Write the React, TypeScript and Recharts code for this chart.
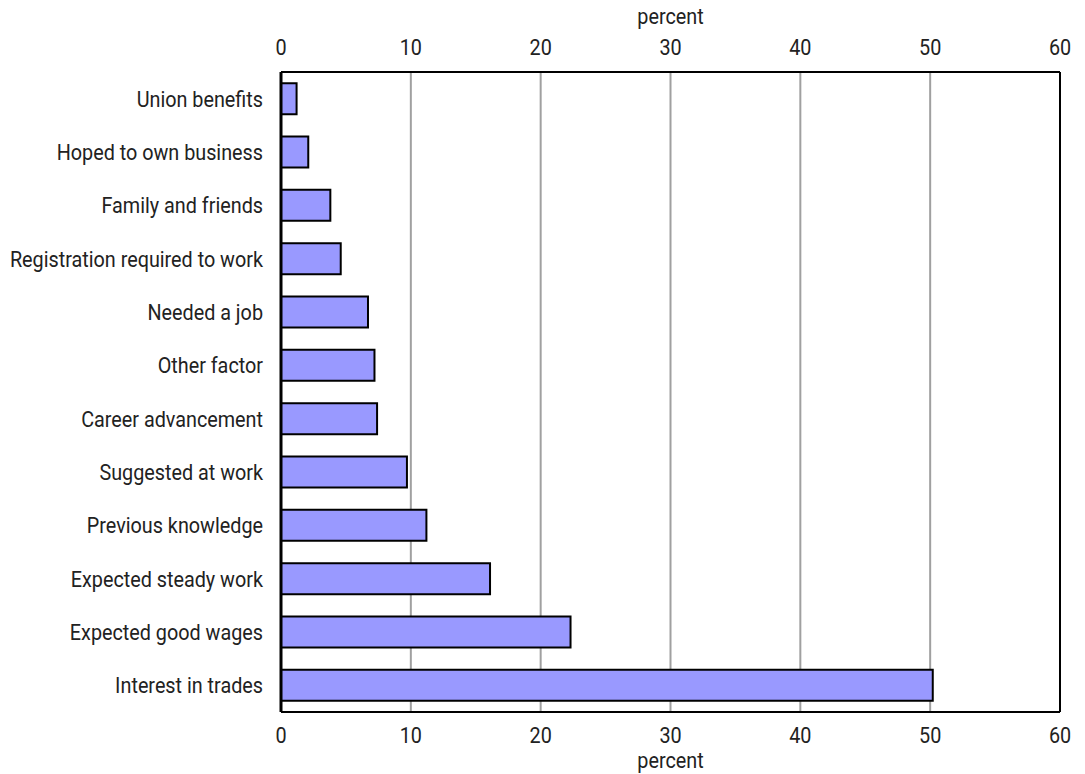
import { BarChart, Bar, XAxis, YAxis, CartesianGrid } from 'recharts'

const REASONS = [
  'Union benefits',
  'Hoped to own business',
  'Family and friends',
  'Registration required to work',
  'Needed a job',
  'Other factor',
  'Career advancement',
  'Suggested at work',
  'Previous knowledge',
  'Expected steady work',
  'Expected good wages',
  'Interest in trades',
]
const PERCENTS = [1.2, 2.1, 3.8, 4.6, 6.7, 7.2, 7.4, 9.7, 11.2, 16.1, 22.3, 50.2]
const X_TICKS = [0, 10, 20, 30, 40, 50, 60]
const AXIS_TITLE = 'percent'

const data = REASONS.map((name, i) => ({ name, value: PERCENTS[i] }))

const FONT = 'Roboto, "Liberation Sans", sans-serif'
const FONT_SIZE = 22
const SQUEEZE = 0.9 // narrow the glyphs a bit, the original uses a condensed face

// text drawn at (x, y) and squeezed horizontally around that point
function NarrowText({ x, y, anchor, children }: { x: number; y: number; anchor: string; children: any }) {
  return (
    <text
      transform={`translate(${x},${y}) scale(${SQUEEZE},1)`}
      textAnchor={anchor}
      fill="#222"
      fontSize={FONT_SIZE}
      fontFamily={FONT}
    >
      {children}
    </text>
  )
}

const TopTick = (props: any) => (
  <NarrowText x={props.x} y={props.y - 17} anchor="middle">
    {props.payload.value}
  </NarrowText>
)

const BottomTick = (props: any) => (
  <NarrowText x={props.x} y={props.y + 31} anchor="middle">
    {props.payload.value}
  </NarrowText>
)

const CategoryTick = (props: any) => (
  <NarrowText x={props.x} y={props.y + 8} anchor="end">
    {props.payload.value}
  </NarrowText>
)

const topTitle = (props: any) => {
  const vb = props.viewBox
  return (
    <NarrowText x={vb.x + vb.width / 2} y={vb.y + 24} anchor="middle">
      {AXIS_TITLE}
    </NarrowText>
  )
}

const bottomTitle = (props: any) => {
  const vb = props.viewBox
  return (
    <NarrowText x={vb.x + vb.width / 2} y={vb.y + 56} anchor="middle">
      {AXIS_TITLE}
    </NarrowText>
  )
}

export default function App() {
  return (
    <div style={{ position: 'absolute', left: 0, top: 0, background: '#fff' }}>
      <BarChart
        width={1085}
        height={774}
        data={data}
        layout="vertical"
        margin={{ top: 0, right: 24, bottom: 0, left: 0 }}
        barCategoryGap="21%"
      >
        <CartesianGrid
          xAxisId="bottom"
          yAxisId="left"
          horizontal={false}
          stroke="#a0a0a0"
          strokeWidth={2}
        />
        <XAxis
          xAxisId="top"
          orientation="top"
          type="number"
          domain={[0, 60]}
          allowDataOverflow
          ticks={X_TICKS}
          interval={0}
          height={72}
          tickLine={false}
          tickSize={0}
          tickMargin={0}
          axisLine={{ stroke: '#000', strokeWidth: 2 }}
          tick={<TopTick />}
          label={{ content: topTitle }}
        />
        <XAxis
          xAxisId="bottom"
          orientation="bottom"
          type="number"
          domain={[0, 60]}
          allowDataOverflow
          ticks={X_TICKS}
          interval={0}
          height={62}
          tickLine={false}
          tickSize={0}
          tickMargin={0}
          axisLine={{ stroke: '#000', strokeWidth: 2 }}
          tick={<BottomTick />}
          label={{ content: bottomTitle }}
        />
        <YAxis
          yAxisId="left"
          type="category"
          dataKey="name"
          width={281}
          tickLine={false}
          tickSize={0}
          tickMargin={18}
          axisLine={{ stroke: '#000', strokeWidth: 3 }}
          tick={<CategoryTick />}
          interval={0}
        />
        <YAxis
          yAxisId="right"
          orientation="right"
          type="category"
          dataKey="name"
          width={1}
          tick={false}
          tickLine={false}
          axisLine={{ stroke: '#000', strokeWidth: 2 }}
        />
        <Bar
          xAxisId="bottom"
          yAxisId="left"
          dataKey="value"
          fill="#9999ff"
          stroke="#000"
          strokeWidth={2}
          isAnimationActive={false}
        />
      </BarChart>
    </div>
  )
}
